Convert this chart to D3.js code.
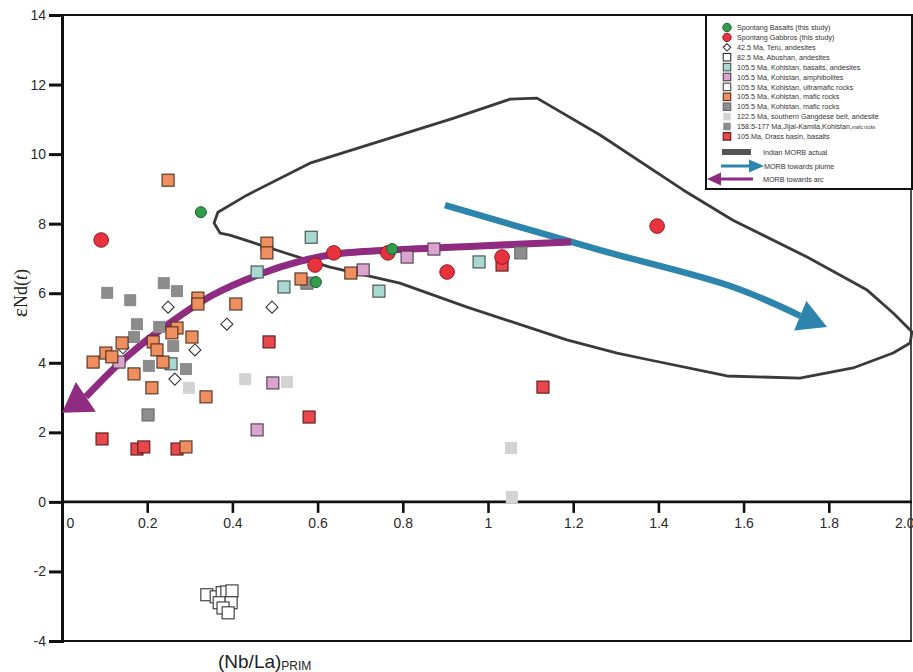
<!DOCTYPE html>
<html>
<head>
<meta charset="utf-8">
<script src="https://cdn.jsdelivr.net/npm/d3@7"></script>
<style>
  body { margin: 0; background: #fff; }
  svg { display: block; }
  svg text { -webkit-font-smoothing: antialiased; }
</style>
</head>
<body>
<svg id="chart" width="913" height="672"></svg>
<script>
// ---- data: [ (Nb/La)PRIM , εNd(t) ] ----
const spontangBasalts = [[0.326, 8.33], [0.596, 6.32], [0.775, 7.27]];
const spontangGabbros = [[0.092, 7.53], [0.594, 6.81], [0.638, 7.16], [0.765, 7.16], [0.904, 6.61], [1.033, 7.04], [1.397, 7.93]];
const teruAndesites = [[0.249, 5.60], [0.387, 5.11], [0.312, 4.37], [0.143, 4.43], [0.265, 3.53], [0.493, 5.60]];
const abushanAndesites = [[0.340, -2.67], [0.362, -2.73], [0.376, -2.61], [0.387, -2.59], [0.399, -2.56], [0.369, -2.90], [0.397, -2.90], [0.378, -3.05], [0.390, -3.19]];
const kohistanBasaltsAndesites = [[0.458, 6.61], [0.585, 7.61], [0.521, 6.18], [0.744, 6.06], [0.979, 6.90], [0.256, 3.97]];
const kohistanAmphibolites = [[0.134, 4.02], [0.707, 6.67], [0.810, 7.04], [0.873, 7.27], [0.458, 2.07], [0.495, 3.42]];
const kohistanUltramafic = [];
const kohistanMaficOrange = [[0.249, 9.25], [0.319, 5.86], [0.319, 5.69], [0.408, 5.69], [0.270, 5.00], [0.258, 4.86], [0.305, 4.74], [0.141, 4.57], [0.214, 4.60], [0.223, 4.37], [0.103, 4.28], [0.117, 4.17], [0.073, 4.02], [0.237, 4.02], [0.169, 3.68], [0.211, 3.28], [0.338, 3.02], [0.291, 1.58], [0.481, 7.44], [0.481, 7.16], [0.561, 6.41], [0.678, 6.58]];
const kohistanMaficGray = [[0.575, 6.29], [1.077, 7.16], [0.202, 2.50]];
const gangdeseAndesite = [[0.430, 3.53], [0.298, 3.28], [0.528, 3.45], [1.054, 1.55], [1.056, 0.14]];
const jijalKamilaMafic = [[0.106, 6.01], [0.160, 5.80], [0.239, 6.29], [0.270, 6.06], [0.176, 5.11], [0.169, 4.74], [0.228, 5.03], [0.261, 4.48], [0.204, 3.91], [0.291, 3.82]];
const drassBasalts = [[0.094, 1.81], [0.176, 1.52], [0.192, 1.58], [0.270, 1.52], [0.486, 4.60], [0.580, 2.44], [1.033, 6.81], [1.129, 3.30]];

// Indian MORB envelope (closed outline)
const morbEnvelope = [[0.357, 8.02], [0.366, 8.33], [0.434, 8.82], [0.582, 9.74], [0.918, 11.03], [1.052, 11.58], [1.115, 11.61], [1.263, 10.55], [1.458, 8.97], [1.575, 8.10], [1.749, 7.04], [1.890, 6.09], [1.951, 5.43], [1.995, 4.89], [1.991, 4.57], [1.951, 4.28], [1.857, 3.85], [1.732, 3.56], [1.561, 3.62], [1.380, 4.08], [1.303, 4.28], [1.185, 4.66], [0.951, 5.60], [0.793, 6.29], [0.629, 6.75], [0.488, 7.30], [0.394, 7.67], [0.371, 7.73]];

// trend arrows: shaft points, then arrow tip
const plumeTrend = [[0.899, 8.53], [1.263, 7.24], [1.575, 6.18], [1.733, 5.35]];
const plumeTip = [1.796, 5.03];
const arcTrend = [[1.195, 7.47], [0.980, 7.36], [0.770, 7.24], [0.640, 7.12], [0.560, 6.92], [0.465, 6.55], [0.354, 5.95], [0.230, 4.94], [0.143, 4.08], [0.056, 3.02]];
const arcTip = [0.0, 2.56];

// axes
const xTickValues = [0, 0.2, 0.4, 0.6, 0.8, 1, 1.2, 1.4, 1.6, 1.8, 2.0];
const xTickLabels = ["0", "0.2", "0.4", "0.6", "0.8", "1", "1.2", "1.4", "1.6", "1.8", "2.0"];
const yTickValues = [-4, -2, 0, 2, 4, 6, 8, 10, 12, 14];
const yTickLabels = ["-4", "-2", "0", "2", "4", "6", "8", "10", "12", "14"];

// legend
const legendLabels = [
  "Spontang Basalts (this study)",
  "Spontang Gabbros (this study)",
  "42.5 Ma, Teru, andesites",
  "82.5 Ma, Abushan, andesites",
  "105.5 Ma, Kohistan, basalts, andesites",
  "105.5 Ma, Kohistan, amphibolites",
  "105.5 Ma, Kohistan, ultramafic rocks",
  "105.5 Ma, Kohistan, mafic rocks",
  "105.5 Ma, Kohistan, mafic rocks",
  "122.5 Ma, southern Gangdese belt, andesite",
  "158.5-177 Ma,Jijal-Kamila,Kohistan,",
  "105.Ma, Drass basin, basalts"
];
const legendLineLabels = ["Indian MORB actual", "MORB towards plume", "MORB towards arc"];

// ---- styles ----
const S = {
  basalt:   { shape: "circle", fill: "#2f9d4c", stroke: "#1c5e2e", r: 5.5 },
  gabbro:   { shape: "circle", fill: "#e8333f", stroke: "#8c1b24", r: 7.3 },
  teru:     { shape: "diamond", fill: "#ffffff", stroke: "#333333" },
  abushan:  { shape: "square", fill: "#ffffff", stroke: "#333333" },
  kBas:     { shape: "square", fill: "#a9d8d0", stroke: "#3e4e4c" },
  kAmph:    { shape: "square", fill: "#d9a5cf", stroke: "#4e3a4a" },
  kUltra:   { shape: "square", fill: "#ffffff", stroke: "#444444" },
  kMafO:    { shape: "square", fill: "#ef8f60", stroke: "#4d2e1e" },
  kMafG:    { shape: "square", fill: "#8e8e8e", stroke: "#666666" },
  gang:     { shape: "square", fill: "#d3d3d3", stroke: "none" },
  jijal:    { shape: "square", fill: "#8c8c8c", stroke: "none" },
  drass:    { shape: "square", fill: "#e8484b", stroke: "#5a1616" }
};

const svg = d3.select("#chart");
const x = d3.scaleLinear().domain([0, 2]).range([62, 914]);
const y = d3.scaleLinear().domain([-4, 14]).range([641, 15]);

// ---- axes & frame ----
const frame = svg.append("g");
frame.append("line").attr("x1", x(0)).attr("x2", 912).attr("y1", y(14)).attr("y2", y(14))
  .attr("stroke", "#111").attr("stroke-width", 2);
frame.append("line").attr("x1", x(0)).attr("x2", 912).attr("y1", y(-4)).attr("y2", y(-4))
  .attr("stroke", "#111").attr("stroke-width", 2.2);
frame.append("line").attr("x1", 911).attr("x2", 911).attr("y1", y(14)).attr("y2", y(-4))
  .attr("stroke", "#111").attr("stroke-width", 1.5);

const yAxis = svg.append("g").attr("transform", `translate(${x(0)},0)`)
  .call(d3.axisLeft(y).tickValues(yTickValues).tickSize(13).tickPadding(3)
    .tickFormat((d, i) => yTickLabels[i]));
yAxis.select(".domain").attr("stroke", "#111").attr("stroke-width", 3);
yAxis.selectAll(".tick line").attr("stroke", "#111").attr("stroke-width", 3);
yAxis.selectAll(".tick text").attr("font-family", "Liberation Sans, Arial, sans-serif")
  .attr("font-size", 14).attr("fill", "#2a2a2a");

const xAxis = svg.append("g").attr("transform", `translate(0,${y(0)})`)
  .call(d3.axisBottom(x).tickValues(xTickValues).tickSize(11).tickPadding(5)
    .tickFormat((d, i) => xTickLabels[i]));
xAxis.select(".domain").remove();
xAxis.selectAll(".tick line").attr("stroke", "#111").attr("stroke-width", 2.6)
  .attr("display", d => (d === 0 || d === 2) ? "none" : null);
xAxis.selectAll(".tick text").attr("font-family", "Liberation Sans, Arial, sans-serif")
  .attr("font-size", 14).attr("fill", "#2a2a2a")
  .attr("text-anchor", d => d === 0 ? "start" : (d === 2 ? "end" : "middle"))
  .attr("dx", d => d === 0 ? 4 : 0);
svg.append("line").attr("x1", x(0)).attr("x2", 912).attr("y1", y(0)).attr("y2", y(0))
  .attr("stroke", "#111").attr("stroke-width", 2.6);

// axis titles
const yt = svg.append("text").attr("transform", `translate(27,${y(6)}) rotate(-90)`)
  .attr("text-anchor", "middle").attr("font-family", "Liberation Serif, Times New Roman, serif")
  .attr("font-size", 18).attr("fill", "#222");
yt.append("tspan").attr("font-size", 22).text("ε");
yt.append("tspan").text("Nd(");
yt.append("tspan").attr("font-style", "italic").text("t");
yt.append("tspan").text(")");

const xt = svg.append("text").attr("x", 218).attr("y", 668)
  .attr("font-family", "Liberation Sans, Arial, sans-serif").attr("font-size", 19).attr("fill", "#222");
xt.append("tspan").text("(Nb/La)");
xt.append("tspan").attr("font-size", 12).attr("dy", 2).text("PRIM");

// ---- MORB envelope ----
svg.append("path").datum(morbEnvelope)
  .attr("d", d3.line().x(d => x(d[0])).y(d => y(d[1])).curve(d3.curveLinearClosed))
  .attr("fill", "none").attr("stroke", "#3a3a3a").attr("stroke-width", 2.8)
  .attr("stroke-linejoin", "round");

// ---- trend arrows ----
function arrowHead(g, bx, by, tx, ty, width, color) {
  const dx = tx - bx, dy = ty - by, L = Math.hypot(dx, dy);
  const nx = -dy / L, ny = dx / L;
  const pts = [[tx, ty], [bx + nx * width / 2, by + ny * width / 2], [bx - nx * width / 2, by - ny * width / 2]];
  g.append("polygon").attr("points", pts.map(p => p.join(",")).join(" ")).attr("fill", color);
}
const trendLine = d3.line().x(d => x(d[0])).y(d => y(d[1])).curve(d3.curveCatmullRom.alpha(0.5));
const arrows = svg.append("g");

const blue = "#2d85ad";
arrows.append("path").datum(plumeTrend).attr("d", trendLine)
  .attr("fill", "none").attr("stroke", blue).attr("stroke-width", 6.5);
{
  const b = plumeTrend[plumeTrend.length - 1];
  arrowHead(arrows, x(b[0]), y(b[1]), x(plumeTip[0]), y(plumeTip[1]), 32, blue);
}

const purple = "#8f2b80";
arrows.append("path").datum(arcTrend).attr("d", trendLine)
  .attr("fill", "none").attr("stroke", purple).attr("stroke-width", 7);
{
  const b = arcTrend[arcTrend.length - 1];
  arrowHead(arrows, x(b[0]), y(b[1]), x(arcTip[0]), y(arcTip[1]), 36, purple);
}

// ---- samples ----
function drawMarker(g, cx, cy, st, size) {
  if (st.shape === "circle") {
    g.append("circle").attr("cx", cx).attr("cy", cy).attr("r", size || st.r)
      .attr("fill", st.fill).attr("stroke", st.stroke).attr("stroke-width", 1);
  } else if (st.shape === "square") {
    const s = size || 12;
    g.append("rect").attr("x", cx - s / 2).attr("y", cy - s / 2).attr("width", s).attr("height", s)
      .attr("fill", st.fill).attr("stroke", st.stroke).attr("stroke-width", 1.1);
  } else {
    const s = (size || 12) / 2;
    g.append("polygon")
      .attr("points", [[cx, cy - s], [cx + s, cy], [cx, cy + s], [cx - s, cy]].map(p => p.join(",")).join(" "))
      .attr("fill", st.fill).attr("stroke", st.stroke).attr("stroke-width", 1.1);
  }
}

const layers = [
  [gangdeseAndesite, S.gang],
  [jijalKamilaMafic, S.jijal],
  [kohistanMaficGray, S.kMafG],
  [teruAndesites, S.teru],
  [abushanAndesites, S.abushan],
  [kohistanUltramafic, S.kUltra],
  [kohistanBasaltsAndesites, S.kBas],
  [kohistanAmphibolites, S.kAmph],
  [drassBasalts, S.drass],
  [kohistanMaficOrange, S.kMafO],
  [spontangGabbros, S.gabbro],
  [spontangBasalts, S.basalt]
];
const pts = svg.append("g");
layers.forEach(([data, st]) => {
  data.forEach(d => drawMarker(pts, x(d[0]), y(d[1]), st));
});

// ---- legend ----
const lg = svg.append("g").attr("opacity", 0.995);
lg.append("rect").attr("x", 706).attr("y", 15).attr("width", 206).attr("height", 174)
  .attr("fill", "#fff").attr("stroke", "#111").attr("stroke-width", 2);
const legendStyles = [S.basalt, S.gabbro, S.teru, S.abushan, S.kBas, S.kAmph, S.kUltra, S.kMafO, S.kMafG, S.gang, S.jijal, S.drass];
legendLabels.forEach((lab, i) => {
  const ry = 27.5 + i * 9.9;
  const st = legendStyles[i];
  drawMarker(lg, 727, ry, st, st.shape === "circle" ? 4.2 : 7.5);
  const t = lg.append("text").attr("x", 737).attr("y", ry + 2.6)
    .attr("font-family", "Liberation Sans, Arial, sans-serif").attr("font-size", 7.2).attr("fill", "#333")
    .text(lab);
  if (i === 10) t.append("tspan").attr("font-size", 4.6).text("mafic rocks");
});
// line entries
lg.append("rect").attr("x", 722).attr("y", 149).attr("width", 29).attr("height", 6).attr("fill", "#555");
lg.append("line").attr("x1", 721).attr("x2", 750).attr("y1", 166).attr("y2", 166)
  .attr("stroke", blue).attr("stroke-width", 3);
arrowHead(lg, 749, 166, 764, 166, 13, blue);
lg.append("line").attr("x1", 753).attr("x2", 718).attr("y1", 179).attr("y2", 179)
  .attr("stroke", purple).attr("stroke-width", 3);
arrowHead(lg, 721, 179, 707, 179, 13, purple);
[152, 166, 179].forEach((ly, i) => {
  lg.append("text").attr("x", i === 1 ? 764 : 763).attr("y", ly + 2.6)
    .attr("font-family", "Liberation Sans, Arial, sans-serif").attr("font-size", 7.2).attr("fill", "#333")
    .text(legendLineLabels[i]);
});
</script>
</body>
</html>
